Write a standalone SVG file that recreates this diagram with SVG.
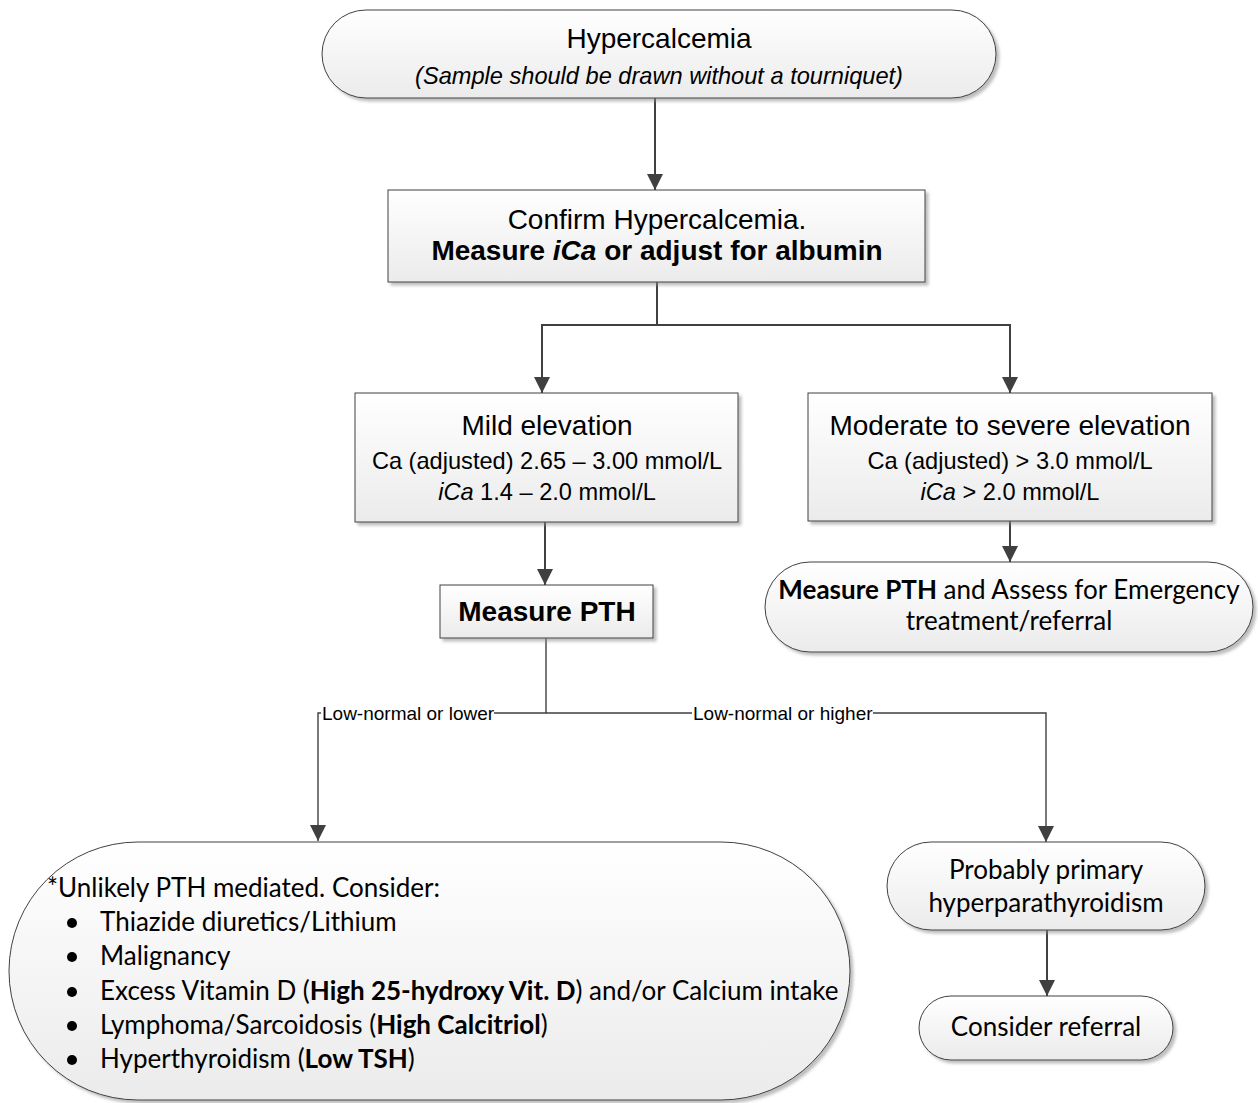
<svg xmlns="http://www.w3.org/2000/svg" width="1258" height="1103" viewBox="0 0 1258 1103">
<defs>
<linearGradient id="g" x1="0" y1="0" x2="0" y2="1">
<stop offset="0" stop-color="#ffffff"/>
<stop offset="1" stop-color="#ebebeb"/>
</linearGradient>
<filter id="sh" x="-5%" y="-5%" width="115%" height="120%">
<feDropShadow dx="3" dy="3" stdDeviation="1.5" flood-color="#888" flood-opacity="0.55"/>
</filter>
<marker id="ah" markerWidth="16" markerHeight="16" viewBox="0 0 16 16" refX="16" refY="8" orient="auto" markerUnits="userSpaceOnUse">
<path d="M0,0 L16,8 L0,16 Z" fill="#404040"/>
</marker>
<style>
.box{fill:url(#g);stroke:#404040;stroke-width:1;filter:url(#sh)}
.a{font-family:"Liberation Sans",Arial,sans-serif;fill:#000}
.c{font-family:Lato,"Liberation Sans",sans-serif;fill:#000;font-size:26px}
.t28{font-size:28px}
.t24{font-size:23.6px}
.lbl{font-family:"Liberation Sans",Arial,sans-serif;font-size:19px;fill:#000}
.ln{fill:none;stroke:#404040;stroke-width:2}
.ln2{fill:none;stroke:#404040;stroke-width:1.4}
</style>
</defs>
<rect width="1258" height="1103" fill="#fff"/>

<g id="connectors">
<path class="ln" d="M655,98 V190" marker-end="url(#ah)"/>
<path class="ln" d="M657,282 V325 H542 V393" marker-end="url(#ah)"/>
<path class="ln" d="M657,325 H1010 V393" marker-end="url(#ah)"/>
<path class="ln" d="M545,522 V585" marker-end="url(#ah)"/>
<path class="ln" d="M1010,521 V562" marker-end="url(#ah)"/>
<path class="ln2" d="M546,638 V713 H318 V841" marker-end="url(#ah)"/>
<path class="ln2" d="M546,713 H1046 V842" marker-end="url(#ah)"/>
<path class="ln" d="M1047,930 V996" marker-end="url(#ah)"/>
<g id="label-lower"><rect x="321" y="703" width="173" height="22" fill="#fff"/><text class="lbl" x="322" y="720">Low-normal or lower</text></g>
<g id="label-higher"><rect x="692" y="703" width="181" height="22" fill="#fff"/><text class="lbl" x="693" y="720">Low-normal or higher</text></g>
</g>

<g id="n-hypercalcemia">
<rect class="box" x="322" y="10" width="674" height="88" rx="44" ry="44"/>
<text class="a t28" x="659" y="48" text-anchor="middle">Hypercalcemia</text>
<text class="a t24" x="659" y="84" text-anchor="middle" font-style="italic">(Sample should be drawn without a tourniquet)</text>
</g>

<g id="n-confirm">
<rect class="box" x="388" y="190" width="537" height="92"/>
<text class="a t28" x="657" y="229" text-anchor="middle">Confirm Hypercalcemia.</text>
<text class="a t28" x="657" y="260" text-anchor="middle" font-weight="bold">Measure <tspan font-style="italic">iCa</tspan> or adjust for albumin</text>
</g>

<g id="n-mild">
<rect class="box" x="355" y="393" width="383" height="129"/>
<text class="a t28" x="547" y="435" text-anchor="middle">Mild elevation</text>
<text class="a t24" x="547" y="469" text-anchor="middle">Ca (adjusted) 2.65 – 3.00 mmol/L</text>
<text class="a t24" x="547" y="500" text-anchor="middle"><tspan font-style="italic">iCa</tspan> 1.4 – 2.0 mmol/L</text>
</g>

<g id="n-moderate">
<rect class="box" x="808" y="393" width="404" height="128"/>
<text class="a t28" x="1010" y="435" text-anchor="middle">Moderate to severe elevation</text>
<text class="a t24" x="1010" y="469" text-anchor="middle">Ca (adjusted) &gt; 3.0 mmol/L</text>
<text class="a t24" x="1010" y="500" text-anchor="middle"><tspan font-style="italic">iCa</tspan> &gt; 2.0 mmol/L</text>
</g>

<g id="n-pth">
<rect class="box" x="440" y="585" width="213" height="53"/>
<text class="a t28" x="547" y="621" text-anchor="middle" font-weight="bold">Measure PTH</text>
</g>

<g id="n-emergency">
<rect class="box" x="765" y="562" width="488" height="90" rx="45" ry="45"/>
<text class="c" x="1009" y="599" text-anchor="middle"><tspan font-weight="bold">Measure PTH</tspan> and Assess for Emergency</text>
<text class="c" x="1009" y="630" text-anchor="middle">treatment/referral</text>
</g>

<g id="n-unlikely">
<rect class="box" x="9" y="842" width="841" height="258" rx="129" ry="129"/>
<g class="c">
<text x="47" y="897">*Unlikely PTH mediated. Consider:</text>
<circle cx="72" cy="923" r="5" fill="#000"/>
<text x="100" y="931">Thiazide diuretics/Lithium</text>
<circle cx="72" cy="957" r="5" fill="#000"/>
<text x="100" y="965">Malignancy</text>
<circle cx="72" cy="992" r="5" fill="#000"/>
<text x="100" y="1000">Excess Vitamin D (<tspan font-weight="bold">High 25-hydroxy Vit. D</tspan>) and/or Calcium intake</text>
<circle cx="72" cy="1026" r="5" fill="#000"/>
<text x="100" y="1034">Lymphoma/Sarcoidosis (<tspan font-weight="bold">High Calcitriol</tspan>)</text>
<circle cx="72" cy="1060" r="5" fill="#000"/>
<text x="100" y="1068">Hyperthyroidism (<tspan font-weight="bold">Low TSH</tspan>)</text>
</g>
</g>

<g id="n-primary">
<rect class="box" x="887" y="842" width="318" height="88" rx="44" ry="44"/>
<text class="c" x="1046" y="879" text-anchor="middle">Probably primary</text>
<text class="c" x="1046" y="912" text-anchor="middle">hyperparathyroidism</text>
</g>

<g id="n-referral">
<rect class="box" x="919" y="996" width="254" height="64" rx="32" ry="32"/>
<text class="c" x="1046" y="1036" text-anchor="middle">Consider referral</text>
</g>
</svg>
